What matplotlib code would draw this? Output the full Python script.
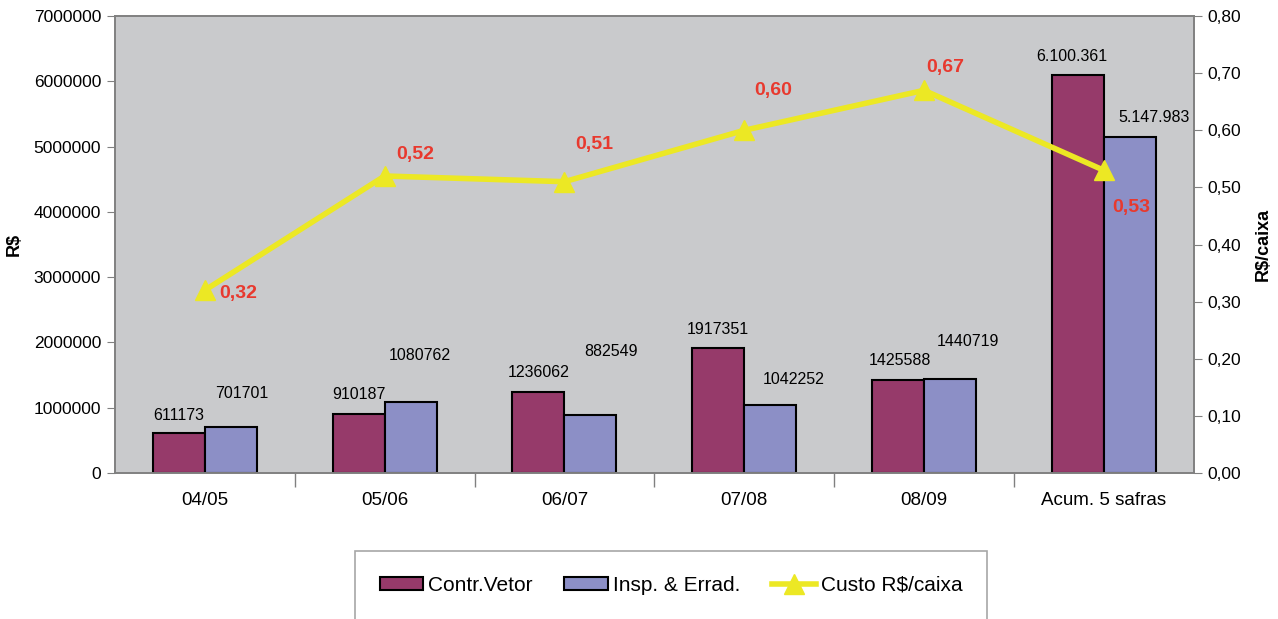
import numpy as np
import matplotlib.pyplot as plt
from matplotlib.ticker import FixedLocator, FuncFormatter

plt.rcParams['font.family'] = ['Liberation Sans', 'DejaVu Sans']

safras = ['04/05', '05/06', '06/07', '07/08', '08/09', 'Acum. 5 safras']
contr_vetor = [611173, 910187, 1236062, 1917351, 1425588, 6100361]
insp_errad = [701701, 1080762, 882549, 1042252, 1440719, 5147983]
custo_caixa = [0.32, 0.52, 0.51, 0.60, 0.67, 0.53]

# label text offsets (pixels) relative to the top of each bar / each point
off_contr = [(0, 18), (0, 19), (0, 20), (0, 18), (2, 19), (-6, 18)]
off_insp = [(11, 34), (9, 47), (21, 64), (23, 25), (18, 37), (24, 19)]
off_custo = [(33, -3), (31, 21), (30, 37), (29, 40), (21, 23), (27, -37)]


def fmt_bar(v, last):
    if last:
        return f'{v:,}'.replace(',', '.')
    return str(v)


fig = plt.figure(figsize=(12.78, 6.19), dpi=100)
ax = fig.add_axes([0.090, 0.236, 0.844, 0.738])
ax.set_facecolor('#c9cacc')

x = np.arange(len(safras))
w = 0.289
b1 = ax.bar(x - w / 2, contr_vetor, w, color='#963a6a', edgecolor='black', linewidth=1.5,
            label='Contr.Vetor', zorder=2)
b2 = ax.bar(x + w / 2, insp_errad, w, color='#8c8fc6', edgecolor='black', linewidth=1.5,
            label='Insp. & Errad.', zorder=2)

n = len(safras)
for i in range(n):
    ax.annotate(fmt_bar(contr_vetor[i], i == n - 1), (x[i] - w / 2, contr_vetor[i]),
                xytext=off_contr[i], textcoords='offset pixels', ha='center', va='center',
                fontsize=11.5, zorder=5)
    ax.annotate(fmt_bar(insp_errad[i], i == n - 1), (x[i] + w / 2, insp_errad[i]),
                xytext=off_insp[i], textcoords='offset pixels', ha='center', va='center',
                fontsize=11.5, zorder=5)

ax.set_xlim(-0.5, n - 0.5)
ax.set_ylim(0, 7000000)
ax.set_yticks(np.arange(0, 7000001, 1000000))
ax.yaxis.set_major_formatter(FuncFormatter(lambda v, p: f'{int(v)}'))
ax.set_xticks(x)
ax.set_xticklabels(safras, fontsize=13.5)
ax.xaxis.set_minor_locator(FixedLocator(np.arange(0.5, n - 1, 1.0)))
ax.tick_params(axis='x', which='major', length=0, pad=14)
ax.tick_params(axis='x', which='minor', length=10, color='#808080', width=1)
ax.tick_params(axis='y', length=6, color='#808080', labelsize=12.5, pad=4)
for s in ax.spines.values():
    s.set_color('#808080')
    s.set_linewidth(1.2)
ax.set_ylabel('R$', fontsize=13, fontweight='bold', labelpad=8)

ax2 = ax.twinx()
ax2.set_ylim(0, 0.80)
ax2.set_yticks(np.arange(0, 0.81, 0.10))
ax2.yaxis.set_major_formatter(FuncFormatter(lambda v, p: f'{v:.2f}'.replace('.', ',')))
ax2.tick_params(axis='y', length=6, color='#808080', labelsize=12.5, pad=4)
for s in ax2.spines.values():
    s.set_color('#808080')
    s.set_linewidth(1.2)
ax2.set_ylabel('R$/caixa', fontsize=13, fontweight='bold', labelpad=10)

ln, = ax2.plot(x, custo_caixa, color='#ece824', linewidth=4, marker='^',
               markersize=15, label='Custo R$/caixa', zorder=4)
for i, v in enumerate(custo_caixa):
    ax2.annotate(f'{v:.2f}'.replace('.', ','), (x[i], v), xytext=off_custo[i],
                 textcoords='offset pixels', ha='center', va='center',
                 fontsize=14, fontweight='bold', color='#e8392e', zorder=6)

leg = fig.legend(handles=[b1, b2, ln], loc='upper center', bbox_to_anchor=(0.525, 0.110),
                 ncol=3, fontsize=15, frameon=True, fancybox=False, edgecolor='#909090',
                 borderpad=1.2, handlelength=2.1, handleheight=0.6, handletextpad=0.25,
                 columnspacing=1.5, borderaxespad=0)
leg.get_frame().set_linewidth(1.2)

fig.savefig('out.png', dpi=100)
